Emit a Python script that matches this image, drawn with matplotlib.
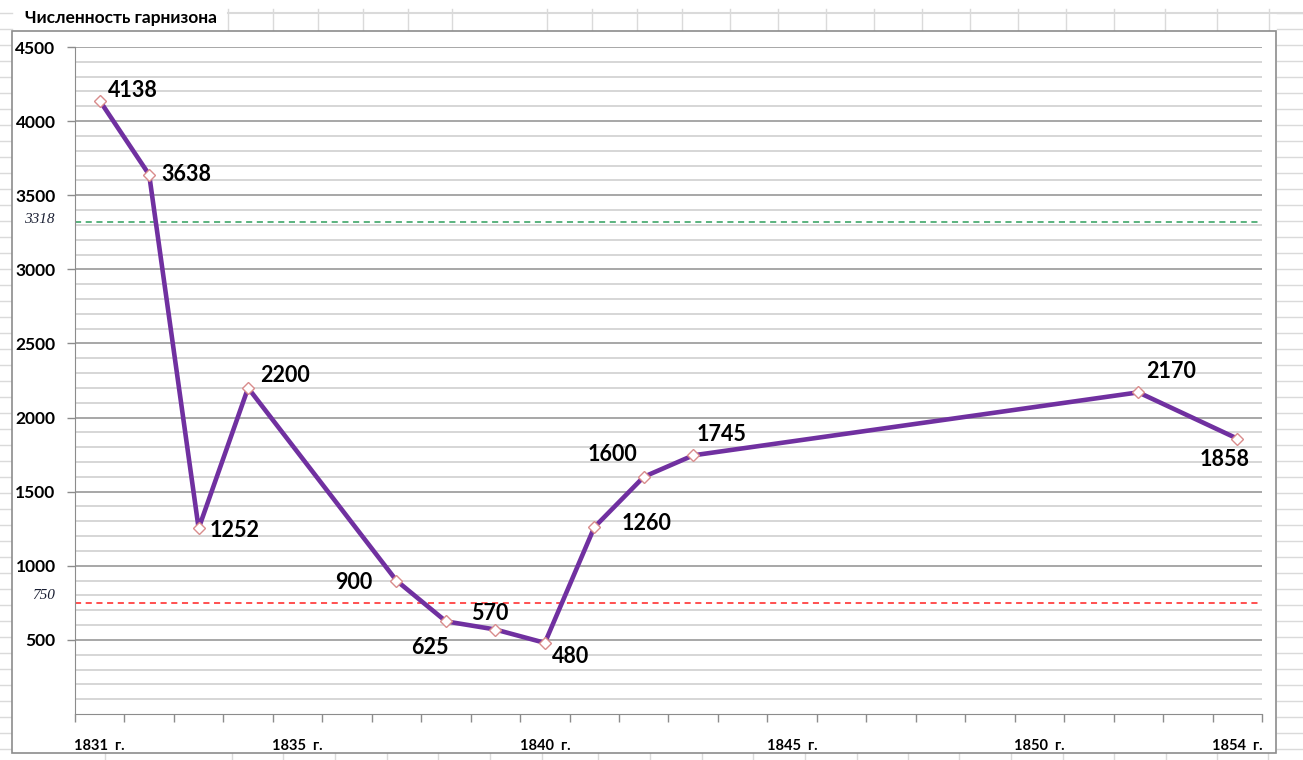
import matplotlib.pyplot as plt
from matplotlib.lines import Line2D
from matplotlib.patches import Rectangle
from matplotlib.transforms import blended_transform_factory

plt.rcParams['font.family'] = ['Lato', 'Open Sans', 'DejaVu Sans']

# data: garrison strength by year (gaps = no data)
years = [1831, 1832, 1833, 1834, 1837, 1838, 1839, 1840, 1841, 1842, 1843, 1852, 1854]
values = [4138, 3638, 1252, 2200, 900, 625, 570, 480, 1260, 1600, 1745, 2170, 1858]
first_year, last_year = 1831, 1854
shown_labels = [1831, 1835, 1840, 1845, 1850, 1854]
ref_values = [3318, 750]
ref_colors = ['#2e9e5b', '#ff2020']
ref_label_shift = [15, 50]

# label offsets in pixels (dx, dy, ha)
label_pos = [(8, 10, 'left'), (12, 0, 'left'), (11, -2, 'left'), (12, 12, 'left'),
             (-24, -2, 'right'), (-16, -26, 'center'), (-6, 16, 'center'),
             (7, -14, 'left'), (27, 4, 'left'), (-6, 22, 'right'), (3, 21, 'left'),
             (8, 21, 'left'), (-38, -21, 'left')]

W, H = 1303, 760
fig = plt.figure(figsize=(W / 100, H / 100), dpi=100)

# spreadsheet cell grid behind the chart
gc = '#dadada'
for k in range(47):
    y = 1 - (13 + 16 * k) / H
    fig.add_artist(Line2D([0, 12 / W], [y, y], color=gc, lw=1, zorder=-5))
    fig.add_artist(Line2D([1277 / W, 1], [y, y], color=gc, lw=1, zorder=-5))
fig.add_artist(Line2D([228 / W, 1], [1 - 13 / H, 1 - 13 / H], color=gc, lw=1.5, zorder=-5))
top_cols = [228, 273, 318, 363, 408, 452, 547, 592, 637, 682, 730, 778, 826,
            874, 922, 970, 1018, 1066, 1114, 1165, 1217, 1269]
for x in top_cols:
    fig.add_artist(Line2D([x / W, x / W], [1 - 9 / H, 1 - 31 / H], color=gc, lw=1, zorder=-5))
bot_cols = [105, 232, 283, 335, 387, 438, 490, 542, 598, 650, 702, 753, 805, 857,
            908, 959, 1011, 1063, 1114, 1166, 1217, 1268]
for x in bot_cols:
    fig.add_artist(Line2D([x / W, x / W], [0, 7 / H], color=gc, lw=1, zorder=-5))

# chart area
fig.add_artist(Rectangle((12 / W, 7 / H), 1264 / W, 722 / H, transform=fig.transFigure,
                         facecolor='white', edgecolor='#8c8c8c', lw=1.2, zorder=-4))

fig.text(25 / W, 1 - 18 / H, 'Численность гарнизона', fontsize=12.5, fontweight='bold',
         va='center', ha='left')

ax = fig.add_axes([75 / W, 46 / H, 1187 / W, 667 / H])
ax.patch.set_alpha(0)
ax.set_xlim(-0.5, last_year - first_year + 0.5)
ax.set_ylim(0, 4500)

for s in ['top', 'right']:
    ax.spines[s].set_visible(False)
ax.spines['left'].set_color('#8c8c8c')
ax.spines['bottom'].set_color('#8c8c8c')

# gridlines
for v in range(100, 4501, 100):
    if v % 500 == 0:
        ax.axhline(v, color='#a0a0a0', lw=1.3, zorder=1)
    else:
        ax.axhline(v, color='#cfcfcf', lw=1.2, zorder=1)

ax.set_yticks(range(500, 4501, 500))
ax.set_yticklabels([str(v) for v in range(500, 4501, 500)], fontsize=12.5, fontweight='bold')
ax.tick_params(axis='y', length=6, width=1, color='#8c8c8c', pad=8)

n = last_year - first_year + 1
ax.set_xticks([y - first_year for y in shown_labels])
ax.set_xticklabels([f'{y}  г.' for y in shown_labels], fontsize=10.5, fontweight='bold')
ax.set_xticks([i - 0.5 for i in range(n + 1)], minor=True)
ax.tick_params(axis='x', which='major', length=0, pad=18)
ax.tick_params(axis='x', which='minor', length=6, width=1, color='#8c8c8c')

# reference lines
tr = blended_transform_factory(ax.transAxes, ax.transData)
for v, c, sh in zip(ref_values, ref_colors, ref_label_shift):
    ax.axhline(v, color=c, lw=1.1, ls=(0, (4, 3)), zorder=2)
    ax.text(-0.017, v + sh, str(v), transform=tr, ha='right', va='center', fontsize=11,
            style='italic', family='Liberation Serif', color='#1a1f33')

xs = [y - first_year for y in years]
ax.plot(xs, values, color='#7030a0', lw=3.3, zorder=3, solid_joinstyle='round',
        marker='D', markersize=6.5, markerfacecolor='white', markeredgecolor='#d98c8c',
        markeredgewidth=1)

for x, v, (dx, dy, ha) in zip(xs, values, label_pos):
    ax.annotate(str(v), (x, v), xytext=(dx, dy), textcoords='offset pixels',
                ha=ha, va='center', fontsize=15.5, fontweight='bold', zorder=4)

fig.savefig('out.png', dpi=100)
